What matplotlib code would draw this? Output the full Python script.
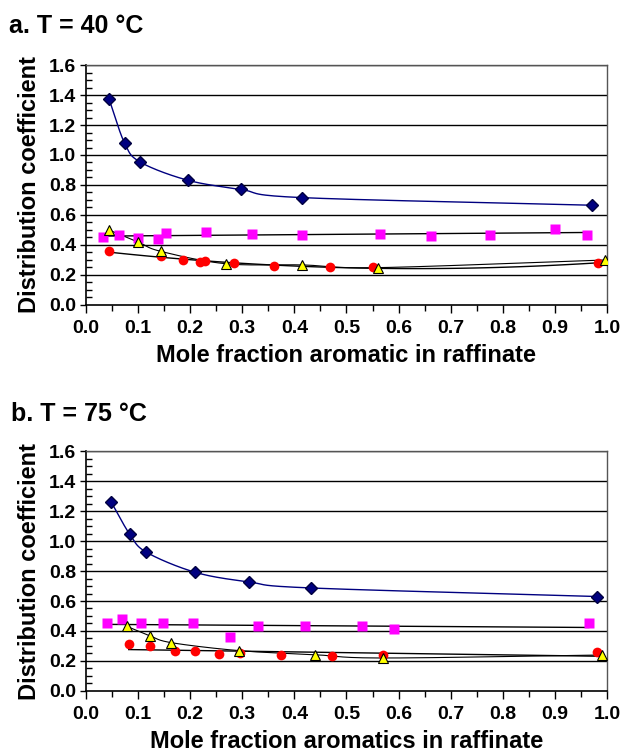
import numpy as np
import matplotlib
matplotlib.use("Agg")
import matplotlib.pyplot as plt
from matplotlib.ticker import MultipleLocator

plt.rcParams['font.family'] = ['Liberation Sans', 'DejaVu Sans']
plt.rcParams['font.weight'] = 'bold'

# panel a, T = 40 C
a_blue_x = [0.044, 0.074, 0.104, 0.195, 0.298, 0.414, 0.972]
a_blue_y = [1.375, 1.080, 0.953, 0.832, 0.770, 0.716, 0.665]
a_pink_x = [0.033, 0.063, 0.100, 0.138, 0.154, 0.230, 0.318, 0.415, 0.564, 0.663, 0.775, 0.900, 0.962]
a_pink_y = [0.455, 0.464, 0.444, 0.438, 0.482, 0.489, 0.475, 0.469, 0.475, 0.462, 0.467, 0.509, 0.469]
a_tri_x = [0.044, 0.100, 0.143, 0.268, 0.415, 0.560, 0.997]
a_tri_y = [0.500, 0.420, 0.358, 0.275, 0.267, 0.249, 0.300]
a_red_x = [0.044, 0.143, 0.186, 0.219, 0.228, 0.285, 0.360, 0.468, 0.551, 0.982]
a_red_y = [0.360, 0.329, 0.298, 0.284, 0.291, 0.278, 0.262, 0.256, 0.256, 0.278]

# panel b, T = 75 C
b_blue_x = [0.048, 0.084, 0.116, 0.210, 0.313, 0.431, 0.980]
b_blue_y = [1.262, 1.045, 0.925, 0.791, 0.727, 0.687, 0.630]
b_pink_x = [0.040, 0.069, 0.106, 0.148, 0.205, 0.276, 0.331, 0.420, 0.529, 0.592, 0.965]
b_pink_y = [0.451, 0.480, 0.451, 0.451, 0.451, 0.362, 0.435, 0.435, 0.435, 0.411, 0.451]
b_tri_x = [0.079, 0.122, 0.164, 0.294, 0.439, 0.571, 0.990]
b_tri_y = [0.430, 0.369, 0.322, 0.269, 0.242, 0.220, 0.240]
b_red_x = [0.082, 0.122, 0.170, 0.210, 0.256, 0.296, 0.375, 0.472, 0.571, 0.980]
b_red_y = [0.315, 0.298, 0.269, 0.269, 0.249, 0.253, 0.240, 0.233, 0.240, 0.262]

xticks = [0.0, 0.1, 0.2, 0.3, 0.4, 0.5, 0.6, 0.7, 0.8, 0.9, 1.0]
yticks = [0.0, 0.2, 0.4, 0.6, 0.8, 1.0, 1.2, 1.4, 1.6]


def smooth(x, y, n=30):
    # catmull-rom through the points, like excel's smoothed line
    x = np.asarray(x, float)
    y = np.asarray(y, float)
    px = np.concatenate([[2 * x[0] - x[1]], x, [2 * x[-1] - x[-2]]])
    py = np.concatenate([[2 * y[0] - y[1]], y, [2 * y[-1] - y[-2]]])
    xs, ys = [], []
    t = np.linspace(0, 1, n)
    for i in range(1, len(px) - 2):
        for p, out in ((px, xs), (py, ys)):
            p0, p1, p2, p3 = p[i - 1], p[i], p[i + 1], p[i + 2]
            out.extend(0.5 * (2 * p1 + (-p0 + p2) * t
                              + (2 * p0 - 5 * p1 + 4 * p2 - p3) * t ** 2
                              + (-p0 + 3 * p1 - 3 * p2 + p3) * t ** 3))
    return xs, ys


def trend(x, y, deg):
    c = np.polyfit(x, y, deg)
    xx = np.linspace(min(x), max(x), 100)
    return xx, np.polyval(c, xx)


def panel(ax, bx, by, px_, py_, tx, ty, rx, ry, red_deg, xlabel):
    ax.set_xlim(0, 1)
    ax.set_ylim(0, 1.6)
    for v in yticks[1:]:
        ax.axhline(v, color='black', lw=1.0, zorder=1)

    ax.plot(*smooth(bx, by), color='#000080', lw=1.0, zorder=2)
    ax.plot(*trend(px_, py_, 1), color='black', lw=1.0, zorder=2)
    ax.plot(*smooth(tx, ty), color='black', lw=0.8, zorder=2)
    ax.plot(*trend(rx, ry, red_deg), color='black', lw=1.0, zorder=2)

    ax.plot(px_, py_, 's', color='#FF00FF', ms=6.5, mec='none', zorder=3)
    ax.plot(rx, ry, 'o', color='#FF0000', ms=7, mec='none', zorder=3)
    ax.plot(tx, ty, '^', mfc='#FFFF00', mec='black', mew=0.8, ms=7.5, zorder=4)
    ax.plot(bx, by, 'D', color='#000080', ms=6, mec='#000040', zorder=4)

    ax.set_xticks(xticks)
    ax.set_yticks(yticks)
    ax.xaxis.set_minor_locator(MultipleLocator(0.05))
    ax.yaxis.set_minor_locator(MultipleLocator(0.05))
    ax.set_xticklabels(['%.1f' % v for v in xticks], fontsize=14, fontweight='bold')
    ax.set_yticklabels(['%.1f' % v for v in yticks], fontsize=14, fontweight='bold')
    ax.tick_params(axis='x', which='major', direction='out', length=6, width=1, pad=5)
    ax.tick_params(axis='x', which='minor', direction='out', length=4, width=1)
    ax.tick_params(axis='y', which='major', direction='out', length=4, width=1, pad=3)
    ax.tick_params(axis='y', which='minor', direction='in', length=4, width=1)
    for s in ('left', 'bottom'):
        ax.spines[s].set_color('black')
        ax.spines[s].set_linewidth(1.2)
    for s in ('top', 'right'):
        ax.spines[s].set_color('#555555')
        ax.spines[s].set_linewidth(1.0)
    ax.set_xlabel(xlabel, fontsize=17, fontweight='bold', labelpad=5)
    ax.set_ylabel('Distribution coefficient', fontsize=17, fontweight='bold', labelpad=6)


fig = plt.figure(figsize=(6.26, 7.56), dpi=100)
ax1 = fig.add_axes([0.1374, 0.5966, 0.8322, 0.3174])
ax2 = fig.add_axes([0.1374, 0.0860, 0.8322, 0.3174])

panel(ax1, a_blue_x, a_blue_y, a_pink_x, a_pink_y, a_tri_x, a_tri_y, a_red_x, a_red_y, 2,
      'Mole fraction aromatic in raffinate')
panel(ax2, b_blue_x, b_blue_y, b_pink_x, b_pink_y, b_tri_x, b_tri_y, b_red_x, b_red_y, 1,
      'Mole fraction aromatics in raffinate')

fig.text(0.015, 0.956, 'a. T = 40 \u00b0C', fontsize=18, fontweight='bold', va='baseline')
fig.text(0.017, 0.443, 'b. T = 75 \u00b0C', fontsize=18, fontweight='bold', va='baseline')

fig.savefig('out.png', dpi=100)
